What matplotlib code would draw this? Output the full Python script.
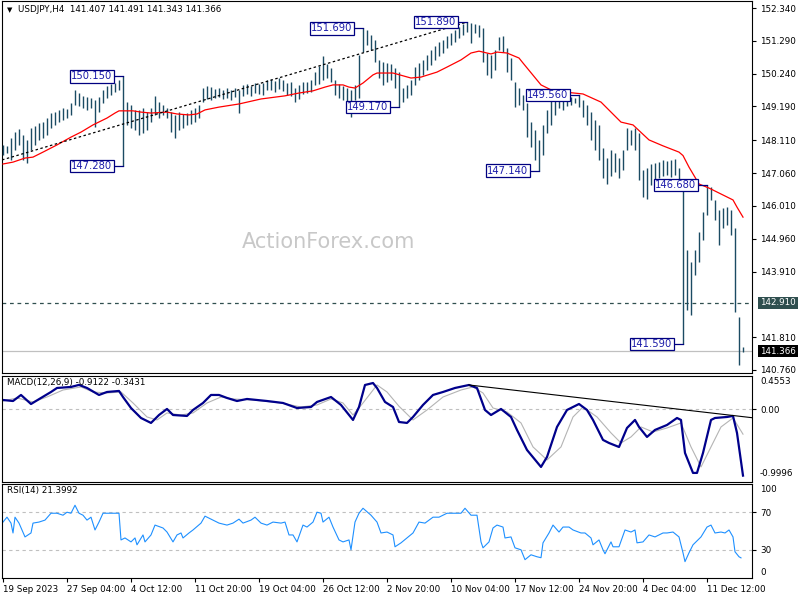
import numpy as np
import matplotlib
matplotlib.use("Agg")
import matplotlib.pyplot as plt

# USDJPY H4 bars, one entry every second bar
bar_high = [
    147.96, 147.92, 148.18, 148.37, 148.47, 148.28, 148.12, 148.50, 148.56, 148.66,
    148.69, 148.82, 148.98, 149.01, 149.08, 149.14, 149.11, 149.30, 149.72, 149.62,
    149.52, 149.49, 149.46, 149.40, 149.49, 149.72, 149.84, 149.91, 149.94, 150.04,
    150.15, 149.33, 149.24, 149.08, 149.08, 149.14, 149.01, 149.14, 149.52, 149.33,
    149.24, 149.14, 149.01, 148.92, 149.01, 148.95, 148.98, 149.08, 149.14, 149.24,
    149.78, 149.84, 149.81, 149.75, 149.78, 149.72, 149.78, 149.72, 149.78, 149.72,
    149.88, 149.91, 149.84, 149.94, 149.91, 149.94, 150.04, 150.07, 150.00, 150.10,
    150.04, 149.94, 149.97, 149.78, 149.88, 149.97, 149.97, 150.04, 150.29, 150.48,
    150.80, 150.55, 150.42, 150.04, 149.91, 149.84, 149.78, 149.72, 149.88, 150.84,
    151.69, 151.64, 151.48, 151.32, 150.68, 150.61, 150.58, 150.55, 150.42, 150.29,
    149.78, 149.88, 150.04, 150.45, 150.58, 150.68, 150.84, 151.00, 151.12, 151.25,
    151.32, 151.44, 151.54, 151.64, 151.73, 151.83, 151.89, 151.86, 151.83, 151.80,
    151.70, 150.90, 150.84, 151.00, 151.41, 151.44, 151.06, 150.74, 149.97, 149.78,
    149.56, 149.30, 148.69, 148.44, 148.12, 148.60, 149.08, 149.40, 149.50, 149.54,
    149.52, 149.48, 149.50, 149.45, 149.56, 149.40, 149.24, 149.01, 148.76, 148.60,
    147.86, 147.54, 147.80, 147.70, 147.54, 147.80, 148.50, 148.44, 148.50, 148.34,
    147.16, 147.22, 147.35, 147.38, 147.41, 147.48, 147.45, 147.48, 147.51, 147.22,
    146.74, 144.60, 144.21, 144.60, 145.17, 145.81, 146.68, 146.61, 146.20, 145.88,
    145.94, 145.97, 145.88, 145.30, 142.45,
]
bar_low = [
    147.64, 147.70, 147.48, 147.80, 147.96, 147.48, 147.38, 147.80, 147.96, 148.12,
    148.18, 148.28, 148.50, 148.60, 148.69, 148.76, 148.82, 148.92, 149.24, 149.20,
    149.14, 149.08, 149.14, 148.53, 149.01, 149.30, 149.46, 149.56, 149.65, 149.72,
    147.28, 148.60, 148.50, 148.44, 148.28, 148.34, 148.44, 148.69, 148.92, 148.82,
    148.92, 148.82, 148.37, 148.18, 148.44, 148.50, 148.60, 148.63, 148.69, 148.82,
    149.33, 149.43, 149.40, 149.46, 149.49, 149.43, 149.46, 149.40, 149.49, 148.98,
    149.52, 149.59, 149.52, 149.62, 149.59, 149.56, 149.72, 149.72, 149.65, 149.75,
    149.68, 149.56, 149.52, 149.33, 149.43, 149.59, 149.62, 149.65, 149.88, 149.91,
    150.04, 150.10, 149.97, 149.56, 149.46, 149.40, 149.08, 148.85, 149.40, 149.46,
    150.93, 151.16, 151.00, 150.61, 150.10, 149.88, 149.97, 150.04, 149.78, 149.17,
    149.33, 149.46, 149.56, 149.88, 150.04, 150.20, 150.36, 150.52, 150.68, 150.80,
    150.90, 151.06, 151.16, 151.25, 151.38, 151.48, 151.57, 151.22, 151.54, 151.41,
    150.61, 150.20, 150.10, 150.36, 151.00, 150.93, 150.29, 150.04, 149.17, 149.24,
    149.08, 148.21, 147.89, 147.48, 147.14, 147.64, 148.34, 148.60, 148.92, 149.14,
    149.08, 149.20, 149.24, 149.30, 149.17, 148.85, 148.60, 148.12, 147.80, 147.48,
    146.90, 146.70, 146.97, 147.09, 146.90, 147.16, 147.80, 147.96, 147.80, 146.84,
    146.30, 146.23, 146.68, 146.77, 146.90, 146.97, 147.00, 146.93, 147.00, 146.52,
    141.59, 142.68, 142.52, 143.80, 144.21, 144.92, 145.72, 146.20, 145.56, 144.76,
    145.30, 145.40, 145.08, 142.61, 140.92,
]
last_bar = 370
last_high, last_low, last_close = 141.491, 141.343, 141.366
pending_level = 142.910

# red moving average
ma_bar = [0, 5, 11, 15, 20, 27, 34, 39, 45, 52, 56, 58, 65, 69, 74, 82, 87, 93, 97, 101,
          108, 118, 129, 141, 148, 155, 161, 165, 170, 173, 176, 180, 185, 187, 195, 204,
          209, 217, 222, 229, 234, 238, 244, 247, 252, 258, 260, 269, 275, 290, 299, 309,
          315, 323, 330, 338, 340, 343, 348, 353, 365, 367, 370]
ma_val = [147.35, 147.41, 147.54, 147.57, 147.73, 147.96, 148.21, 148.37, 148.60, 148.82,
          148.98, 149.05, 149.05, 149.01, 148.98, 149.01, 148.95, 148.92, 148.95, 149.08,
          149.17, 149.27, 149.43, 149.53, 149.62, 149.69, 149.81, 149.88, 149.88, 149.81,
          149.78, 149.94, 150.20, 150.26, 150.26, 150.10, 150.13, 150.29, 150.45, 150.68,
          150.90, 150.96, 150.87, 150.93, 150.90, 150.74, 150.58, 149.88, 149.69, 149.59,
          149.33, 148.69, 148.60, 148.12, 147.93, 147.73, 147.62, 147.25, 146.71, 146.58,
          146.20, 145.97, 145.65]

# dashed trendline on price, and on MACD
trend_bar = [-0.5, 232]
trend_val = [147.48, 151.89]
macd_trend_bar = [233, 374.5]
macd_trend_val = [0.332, -0.117]

# swing labels: bar, price
swing_bar = [60, 60, 180, 198, 232, 268, 288, 352, 340]
swing_val = [150.150, 147.280, 151.690, 149.170, 151.890, 147.140, 149.560, 146.680, 141.590]

price_ticks = [152.340, 151.290, 150.240, 149.190, 148.110, 147.060, 146.010,
               144.960, 143.910, 141.810, 140.760]

macd_bar = [0, 5, 9, 14, 19, 24, 27, 34, 38, 42, 48, 52, 58, 60, 64, 69, 74, 78, 82, 85,
            92, 95, 100, 104, 108, 112, 117, 122, 132, 140, 147, 154, 157, 164, 169, 175,
            178, 181, 185, 187, 191, 195, 198, 202, 205, 210, 215, 220, 226, 233, 237, 241,
            244, 249, 254, 257, 262, 269, 272, 277, 282, 288, 292, 295, 300, 303, 308, 312,
            316, 318, 322, 326, 332, 337, 339, 341, 345, 347, 350, 354, 356, 362, 365, 367, 370]
macd_val = [0.126, 0.112, 0.195, 0.071, 0.154, 0.236, 0.291, 0.305, 0.333, 0.291,
            0.195, 0.236, 0.250, 0.167, 0.016, -0.121, -0.189, -0.080, 0.003, -0.080,
            -0.093, -0.011, 0.085, 0.195, 0.195, 0.154, 0.112, 0.140, 0.112, 0.085,
            0.016, 0.030, 0.099, 0.167, 0.058, -0.148, 0.030, 0.332, 0.359, 0.291,
            0.099, 0.030, -0.176, -0.189, -0.107, 0.058, 0.195, 0.236, 0.291, 0.332,
            0.291, -0.011, -0.080, 0.003, -0.107, -0.285, -0.560, -0.793, -0.656, -0.244,
            -0.011, 0.071, -0.011, -0.148, -0.422, -0.464, -0.519, -0.258, -0.148, -0.244,
            -0.381, -0.285, -0.217, -0.121, -0.148, -0.601, -0.875, -0.875, -0.601, -0.148,
            -0.121, -0.107, -0.093, -0.326, -0.912]
signal_bar = [0, 7, 15, 22, 30, 39, 45, 52, 59, 65, 72, 77, 82, 89, 95, 102, 109, 115, 125,
              139, 149, 157, 164, 170, 175, 180, 187, 192, 198, 205, 212, 220, 229, 235, 240,
              245, 252, 259, 265, 272, 279, 285, 290, 297, 304, 309, 314, 319, 325, 332, 339,
              344, 349, 354, 359, 365, 370]
signal_val = [0.112, 0.154, 0.099, 0.167, 0.263, 0.305, 0.236, 0.222, 0.236, 0.085,
              -0.107, -0.148, -0.052, -0.080, -0.052, 0.085, 0.167, 0.140, 0.126, 0.085,
              0.030, 0.058, 0.140, 0.085, -0.080, 0.085, 0.332, 0.236, 0.040, -0.148,
              -0.011, 0.167, 0.263, 0.305, 0.222, 0.016, -0.038, -0.189, -0.518, -0.697,
              -0.518, -0.107, 0.030, -0.107, -0.326, -0.464, -0.381, -0.244, -0.313, -0.258,
              -0.189, -0.518, -0.793, -0.518, -0.244, -0.121, -0.343]
macd_max, macd_min = 0.4553, -0.9996

rsi_bar = [0, 2, 4, 5, 6, 8, 11, 14, 15, 18, 21, 24, 27, 30, 32, 34, 36, 38, 40, 42,
           44, 46, 48, 50, 54, 58, 59, 61, 64, 66, 67, 70, 71, 74, 76, 80, 82, 85, 87, 89,
           90, 93, 95, 99, 101, 105, 108, 112, 115, 118, 120, 124, 126, 129, 132, 135, 139, 141, 143, 145,
           147, 150, 152, 155, 157, 159, 160, 163, 165, 168, 170, 173, 174, 176, 178, 180, 184, 187, 189, 192,
           195, 196, 199, 202, 205, 208, 211, 215, 218, 222, 225, 229, 231, 234, 237, 239, 240, 243, 245, 247,
           250, 251, 254, 256, 259, 261, 264, 267, 269, 270, 273, 275, 278, 280, 283, 285, 289, 291, 294, 295,
           298, 300, 301, 304, 305, 308, 311, 314, 316, 317, 320, 323, 326, 330, 332, 335, 338, 340, 341, 343,
           345, 349, 352, 354, 356, 359, 361, 363, 365, 366, 368, 369]
rsi_val = [59.5, 64.7, 58.4, 47.9, 64.7, 58.4, 43.7, 47.9, 58.4, 59.5, 61.6, 68.9, 68.9, 66.8, 70.0, 68.9, 77.4, 68.9, 66.8, 61.6,
           64.7, 51.1, 59.5, 68.9, 68.9, 68.9, 40.5, 42.6, 38.4, 42.6, 35.3, 45.8, 38.4, 45.8, 56.3, 53.2, 48.9, 38.4, 45.8, 47.9,
           42.6, 47.9, 51.1, 58.4, 65.8, 61.6, 58.4, 56.3, 58.4, 62.6, 58.4, 61.6, 64.7, 58.4, 56.3, 59.5, 58.4, 59.5, 45.8, 45.8,
           38.4, 56.3, 54.2, 59.5, 70.0, 68.9, 59.5, 64.7, 54.2, 40.5, 38.4, 40.5, 30.0, 59.5, 68.9, 74.2, 66.8, 59.5, 47.9, 48.9,
           45.8, 33.2, 37.4, 42.6, 47.9, 59.5, 58.4, 64.7, 64.7, 68.9, 68.9, 68.9, 74.2, 66.8, 66.8, 38.4, 32.1, 38.4, 53.2, 56.3,
           54.2, 42.6, 43.7, 32.1, 30.0, 19.5, 24.7, 22.6, 21.6, 37.4, 47.9, 56.3, 48.9, 54.2, 54.2, 51.1, 47.9, 47.9, 42.6, 35.3,
           40.5, 30.0, 25.8, 38.4, 33.2, 33.2, 51.1, 48.9, 51.1, 37.4, 38.4, 45.8, 43.7, 47.9, 47.9, 48.9, 43.7, 26.8, 17.4, 26.8,
           35.3, 43.7, 54.2, 56.3, 47.9, 48.9, 47.9, 51.1, 43.7, 27.9, 22.6, 21.4]

date_ticks = [0, 32, 64, 96, 128, 160, 192, 224, 256, 288, 320, 352]
date_labels = ["19 Sep 2023", "27 Sep 04:00", "4 Oct 12:00", "11 Oct 20:00", "19 Oct 04:00",
               "26 Oct 12:00", "2 Nov 20:00", "10 Nov 04:00", "17 Nov 12:00", "24 Nov 20:00",
               "4 Dec 04:00", "11 Dec 12:00"]

BAR = "#1b4b63"
NAVY = "#000080"
FS = 6.3

W, H = 800, 600
fig = plt.figure(figsize=(8, 6), dpi=100)
fig.patch.set_facecolor("white")


def panel(top, bottom):
    # rows in pixels from the top of the image
    a = fig.add_axes([2 / W, 1 - bottom / H, 750 / W, (bottom - top) / H])
    a.set_xlim(-0.5, 374.5)
    for s in a.spines.values():
        s.set_color("black")
        s.set_linewidth(0.8)
    a.yaxis.tick_right()
    a.tick_params(axis="y", direction="out", length=3, width=0.8, pad=2.8, labelsize=FS)
    a.tick_params(axis="x", bottom=False, labelbottom=False)
    return a


def edge_label(a, txt, y, dy):
    a.annotate(txt, xy=(1, y), xycoords="axes fraction", xytext=(5.8, dy),
               textcoords="offset points", ha="left", va="center", fontsize=FS,
               annotation_clip=False)


# ---- price panel ----
ax = panel(1, 373)
ax.set_ylim(140.664, 152.564)
bar_x = np.arange(len(bar_high)) * 2
ax.vlines(bar_x, bar_low, bar_high, color=BAR, lw=1.0, zorder=3)
ax.vlines(last_bar, last_low, last_high, color=BAR, lw=1.0, zorder=3)
ax.plot(ma_bar, ma_val, color="red", lw=0.9, zorder=4)
ax.plot(trend_bar, trend_val, color="black", lw=0.9, ls=(0, (2, 2)), zorder=4)
ax.axhline(last_close, color="#c0c0c0", lw=0.9, zorder=2)
ax.axhline(pending_level, color="#2f4f4f", lw=0.9, ls=(0, (3, 3)), zorder=2)

for n, p in zip(swing_bar, swing_val):
    ax.plot([n - 5, n], [p, p], color=NAVY, lw=0.9, zorder=5)
    ax.text(n - 5.3, p, f"{p:.3f}", ha="right", va="center", fontsize=7.2, color="#1c1caa",
            zorder=6, bbox=dict(boxstyle="square,pad=0.12", fc="white", ec=NAVY, lw=0.9))

ax.set_yticks(price_ticks)
ax.set_yticklabels([f"{v:.3f}" for v in price_ticks])
for lvl, fc in ((pending_level, "#2f4f4f"), (last_close, "black")):
    ax.annotate(f"{lvl:.3f}", xy=(1, lvl), xycoords=("axes fraction", "data"),
                xytext=(5.8, 0), textcoords="offset points", ha="left", va="center",
                fontsize=FS, color="white", annotation_clip=False, zorder=10,
                bbox=dict(boxstyle="square,pad=0.2", fc=fc, ec="none"))

ax.text(0.435, 0.352, "ActionForex.com", transform=ax.transAxes, ha="center", va="center",
        fontsize=15, color="#c8c8c8", zorder=1)
ax.text(0.007, 0.976, "\u25bc", transform=ax.transAxes, ha="left", va="center", fontsize=5)
ax.text(0.021, 0.976, "USDJPY,H4  141.407 141.491 141.343 141.366", transform=ax.transAxes,
        ha="left", va="center", fontsize=FS)

# ---- MACD panel ----
am = panel(376, 482)
am.set_ylim(macd_min, macd_max)
am.axhline(0, color="#c0c0c0", lw=0.8, ls=(0, (3, 3)))
am.plot(signal_bar, signal_val, color="#b4b4b4", lw=0.8)
am.plot(macd_bar, macd_val, color="#00008b", lw=1.6)
am.plot(macd_trend_bar, macd_trend_val, color="black", lw=0.8)
am.set_yticks([0])
am.set_yticklabels(["0.00"])
edge_label(am, f"{macd_max:.4f}", 1, -4.3)
edge_label(am, f"{macd_min:.4f}", 0, 5.8)
am.text(0.007, 0.934, "MACD(12,26,9) -0.9122 -0.3431", transform=am.transAxes,
        ha="left", va="center", fontsize=FS)

# ---- RSI panel ----
ar = panel(484, 578)
ar.set_ylim(0, 100)
for lvl in (70, 30):
    ar.axhline(lvl, color="#c0c0c0", lw=0.8, ls=(0, (3, 3)))
ar.plot(rsi_bar, rsi_val, color="#1e90ff", lw=0.8)
ar.set_yticks([70, 30])
ar.set_yticklabels(["70", "30"])
edge_label(ar, "100", 1, -4.3)
edge_label(ar, "0", 0, 4.3)
ar.text(0.007, 0.926, "RSI(14) 21.3992", transform=ar.transAxes, ha="left", va="center",
        fontsize=FS)

ar.tick_params(axis="x", bottom=True, labelbottom=True, direction="out", length=3,
               width=0.8, pad=2, labelsize=FS)
ar.set_xticks(date_ticks)
ar.set_xticklabels(date_labels)
for lbl in ar.get_xticklabels():
    lbl.set_ha("left")

fig.savefig("out.png", dpi=100)
